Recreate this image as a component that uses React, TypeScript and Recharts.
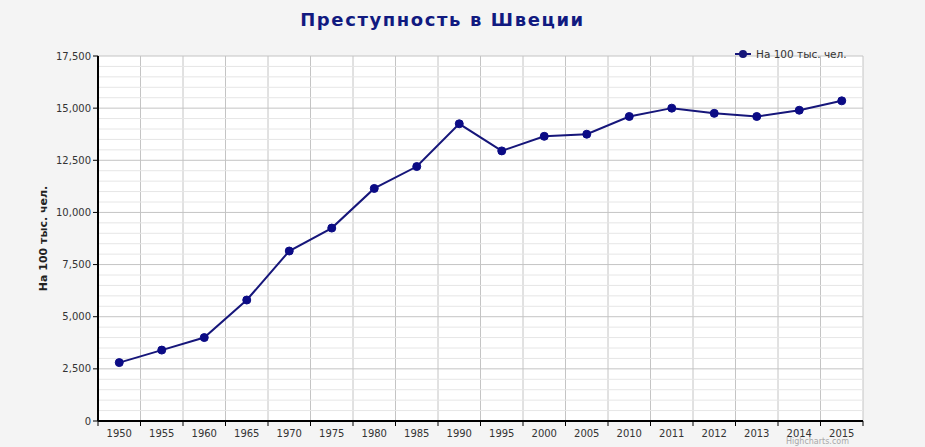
import { CartesianGrid, Legend, Line, LineChart, ReferenceLine, XAxis, YAxis } from "recharts";

const YEARS = [
  "1950", "1955", "1960", "1965", "1970", "1975", "1980", "1985", "1990",
  "1995", "2000", "2005", "2010", "2011", "2012", "2013", "2014", "2015",
];
const RATE_PER_100K = [
  2800, 3400, 4000, 5800, 8150, 9250, 11150, 12200, 14250,
  12950, 13650, 13750, 14600, 15000, 14750, 14600, 14900, 15350,
];
const Y_TICKS = [0, 2500, 5000, 7500, 10000, 12500, 15000, 17500];
const MINOR_LINES = [
  500, 1000, 1500, 2000, 3000, 3500, 4000, 4500, 5500, 6000, 6500, 7000,
  8000, 8500, 9000, 9500, 10500, 11000, 11500, 12000, 13000, 13500, 14000,
  14500, 15500, 16000, 16500, 17000,
];

const SERIES_NAME = "На 100 тыс. чел.";
const TITLE = "Преступность в Швеции";

const data = YEARS.map((year, i) => ({ year, rate: RATE_PER_100K[i] }));

const FONT = "'DejaVu Sans', Verdana, sans-serif";
const NAVY = "#16167a";

const TICK_SIZE = 5;
const TICK_MARGIN = 2;

// category ticks sit in the band centre; Highcharts draws the tick marks on the band edges
function XTick(props: any) {
  const { x, y, payload, index } = props;
  const half = payload?.offset ?? 0;
  const top = y - TICK_SIZE - TICK_MARGIN;
  return (
    <g>
      <line x1={x - half} x2={x - half} y1={top} y2={top + TICK_SIZE} stroke="#000" />
      {index === YEARS.length - 1 && (
        <line x1={x + half} x2={x + half} y1={top} y2={top + TICK_SIZE} stroke="#000" />
      )}
      <text x={x} y={y + 9} textAnchor="middle" fontSize={10} fill="#333" fontFamily={FONT}>
        {payload.value}
      </text>
    </g>
  );
}

// vertical grid lines on the category band edges
function bandEdges({ offset }: any) {
  const band = offset.width / YEARS.length;
  return [...YEARS.map((_, i) => offset.left + i * band), offset.left + offset.width];
}

function LegendBox() {
  return (
    <div style={{ display: "flex", alignItems: "center", fontFamily: FONT, fontSize: 10.5, color: "#333" }}>
      <svg width={16} height={10} style={{ marginRight: 5 }}>
        <line x1={0} x2={16} y1={5} y2={5} stroke={NAVY} strokeWidth={2} />
        <circle cx={8} cy={5} r={4} fill={NAVY} />
      </svg>
      {SERIES_NAME}
    </div>
  );
}

export default function App() {
  return (
    <div
      style={{
        position: "absolute",
        left: 0,
        top: 0,
        width: 925,
        height: 447,
        background: "#f4f4f4",
        fontFamily: FONT,
      }}
    >
      <div
        style={{
          position: "absolute",
          top: 9,
          left: 0,
          width: 885,
          textAlign: "center",
          fontSize: 18,
          fontWeight: "bold",
          letterSpacing: 1.6,
          color: "#111a80",
        }}
      >
        {TITLE}
      </div>
      <LineChart
        width={925}
        height={447}
        data={data}
        margin={{ top: 56, right: 62, bottom: 0, left: 0 }}
      >
        <CartesianGrid
          fill="#ffffff"
          stroke="#c4c4c4"
          verticalCoordinatesGenerator={bandEdges}
        />
        {MINOR_LINES.map((v) => (
          <ReferenceLine key={v} y={v} stroke="#e6e6e6" />
        ))}
        <XAxis
          dataKey="year"
          scale="band"
          height={26}
          axisLine={{ stroke: "#000", strokeWidth: 2 }}
          tickLine={false}
          tickSize={TICK_SIZE}
          tickMargin={TICK_MARGIN}
          interval={0}
          tick={<XTick />}
        />
        <YAxis
          width={98}
          domain={[0, 17500]}
          ticks={Y_TICKS}
          interval={0}
          axisLine={{ stroke: "#000", strokeWidth: 2 }}
          tickLine={{ stroke: "#000" }}
          tickSize={TICK_SIZE}
          tickMargin={TICK_MARGIN}
          tick={{ fontSize: 10, fill: "#333", fontFamily: FONT }}
          tickFormatter={(v: number) => v.toLocaleString("en-US")}
          label={{
            value: SERIES_NAME,
            angle: -90,
            position: "insideLeft",
            offset: 43,
            style: { textAnchor: "middle", fontSize: 11, fontWeight: "bold", fill: "#222", fontFamily: FONT },
          }}
        />
        <Legend
          layout="horizontal"
          verticalAlign="middle"
          align="center"
          wrapperStyle={{ top: 48, left: 735, width: 130, height: 14 }}
          content={<LegendBox />}
        />
        <Line
          dataKey="rate"
          name={SERIES_NAME}
          stroke={NAVY}
          strokeWidth={2}
          dot={{ r: 4, fill: "#0b0b85", stroke: "#0b0b85", strokeWidth: 1 }}
          activeDot={false}
          isAnimationActive={false}
        />
      </LineChart>
      <div
        style={{
          position: "absolute",
          left: 786,
          top: 437,
          fontSize: 8,
          lineHeight: "9px",
          color: "#a8a8a8",
          fontFamily: FONT,
        }}
      >
        Highcharts.com
      </div>
    </div>
  );
}
